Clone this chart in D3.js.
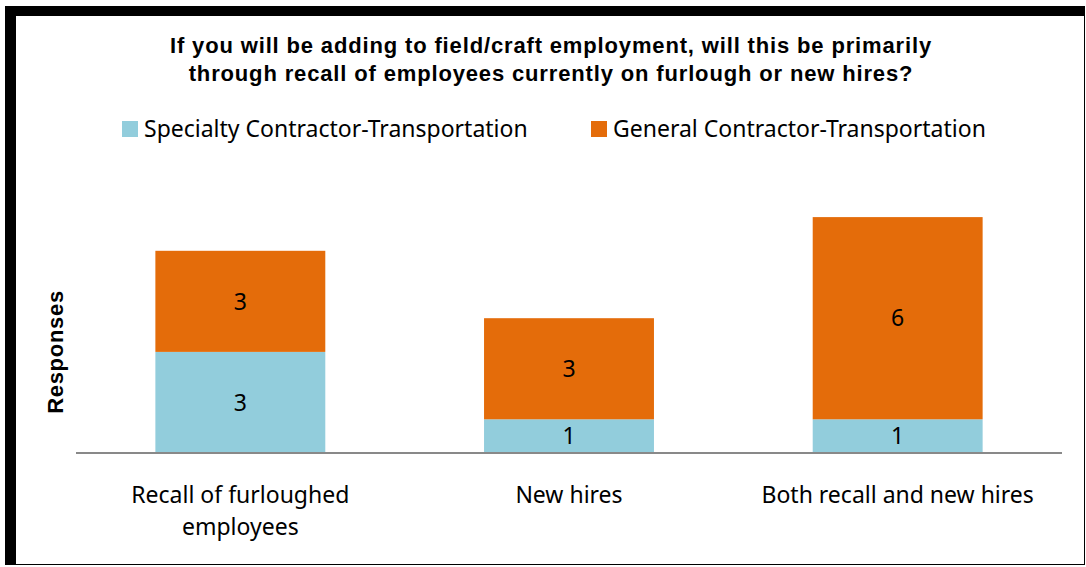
<!DOCTYPE html>
<html lang="en">
<head>
<meta charset="utf-8">
<title>Field/craft employment</title>
<script src="https://cdn.jsdelivr.net/npm/d3@7"></script>
<style>
  body { margin: 0; background: #fff; }
  text { fill: #000; }
</style>
</head>
<body>
<script>
// chart data
var categories = ["Recall of furloughed employees", "New hires", "Both recall and new hires"];
var categoryLines = [["Recall of furloughed", "employees"], ["New hires"], ["Both recall and new hires"]];
var seriesNames = ["Specialty Contractor-Transportation", "General Contractor-Transportation"];
var specialty = [3, 1, 1];
var general = [3, 3, 6];
var titleLines = ["If you will be adding to field/craft employment, will this be primarily",
                  "through recall of employees currently on furlough or new hires?"];

var w = 1086, h = 567;
var colors = ["#92CDDC", "#E46C0A"];
var bodyFont = "Noto Sans, sans-serif";
var boldFont = "Liberation Sans, Arial, sans-serif";

var svg = d3.select("body").append("svg")
    .attr("width", w)
    .attr("height", h);

// frame: heavy top/left, thin right/bottom
svg.append("rect").attr("x", 5).attr("y", 6).attr("width", 1079).attr("height", 10).attr("fill", "#000");
svg.append("rect").attr("x", 5).attr("y", 6).attr("width", 11).attr("height", 559).attr("fill", "#000");
svg.append("line").attr("x1", 5).attr("x2", 1085).attr("y1", 564.5).attr("y2", 564.5).attr("stroke", "#000").attr("stroke-width", 1);
svg.append("line").attr("x1", 1084.5).attr("x2", 1084.5).attr("y1", 6).attr("y2", 565).attr("stroke", "#000").attr("stroke-width", 1);

// title
svg.append("g").selectAll("text")
    .data(titleLines)
    .enter().append("text")
    .attr("x", 551)
    .attr("y", function(d, i) { return 53 + i * 28; })
    .attr("text-anchor", "middle")
    .style("font-family", boldFont)
    .style("font-weight", "bold")
    .style("font-size", "22px")
    .style("letter-spacing", "0.85px")
    .text(function(d) { return d; });

// legend
var legendX = [122, 591];
var legend = svg.append("g").selectAll("g")
    .data(seriesNames)
    .enter().append("g")
    .attr("transform", function(d, i) { return "translate(" + legendX[i] + ",121)"; });
legend.append("rect")
    .attr("width", 16).attr("height", 16)
    .attr("fill", function(d, i) { return colors[i]; });
legend.append("text")
    .attr("x", 22).attr("y", 16)
    .style("font-family", bodyFont)
    .style("font-size", "23px")
    .text(function(d) { return d; });

// scales
var x = d3.scaleBand()
    .domain(categories)
    .range([76, 1062])
    .paddingInner(0.483)
    .paddingOuter(0.2415);
var y = d3.scaleLinear()
    .domain([0, 8])
    .range([453, 183.4]);

var rows = categories.map(function(c, i) {
  return { cat: c, specialty: specialty[i], general: general[i] };
});
var layers = d3.stack().keys(["specialty", "general"])(rows);

var layer = svg.append("g").selectAll("g")
    .data(layers)
    .enter().append("g")
    .attr("fill", function(d, i) { return colors[i]; });

layer.selectAll("rect")
    .data(function(d) { return d; })
    .enter().append("rect")
    .attr("x", function(d) { return x(d.data.cat); })
    .attr("width", x.bandwidth())
    .attr("y", function(d) { return y(d[1]); })
    .attr("height", function(d) { return y(d[0]) - y(d[1]); });

layer.selectAll("text")
    .data(function(d) { return d; })
    .enter().append("text")
    .attr("x", function(d) { return x(d.data.cat) + x.bandwidth() / 2; })
    .attr("y", function(d) { return (y(d[0]) + y(d[1])) / 2; })
    .attr("dy", "0.36em")
    .attr("text-anchor", "middle")
    .style("font-family", bodyFont)
    .style("font-size", "23px")
    .style("fill", "#000")
    .text(function(d) { return d[1] - d[0]; });

// x axis baseline
svg.append("line")
    .attr("x1", 76).attr("x2", 1062)
    .attr("y1", y(0)).attr("y2", y(0))
    .attr("stroke", "#898989")
    .attr("stroke-width", 2);

// category labels
var catLabel = svg.append("g").selectAll("text")
    .data(categories)
    .enter().append("text")
    .attr("text-anchor", "middle")
    .style("font-family", bodyFont)
    .style("font-size", "23px");
catLabel.selectAll("tspan")
    .data(function(d, i) { return categoryLines[i].map(function(t) { return { t: t, c: d }; }); })
    .enter().append("tspan")
    .attr("x", function(d) { return x(d.c) + x.bandwidth() / 2; })
    .attr("y", function(d, i) { return 503 + i * 32; })
    .text(function(d) { return d.t; });

// y axis title
svg.append("text")
    .attr("transform", "translate(63,352) rotate(-90)")
    .attr("text-anchor", "middle")
    .style("font-family", boldFont)
    .style("font-weight", "bold")
    .style("font-size", "22px")
    .style("letter-spacing", "0.7px")
    .text("Responses");
</script>
</body>
</html>
